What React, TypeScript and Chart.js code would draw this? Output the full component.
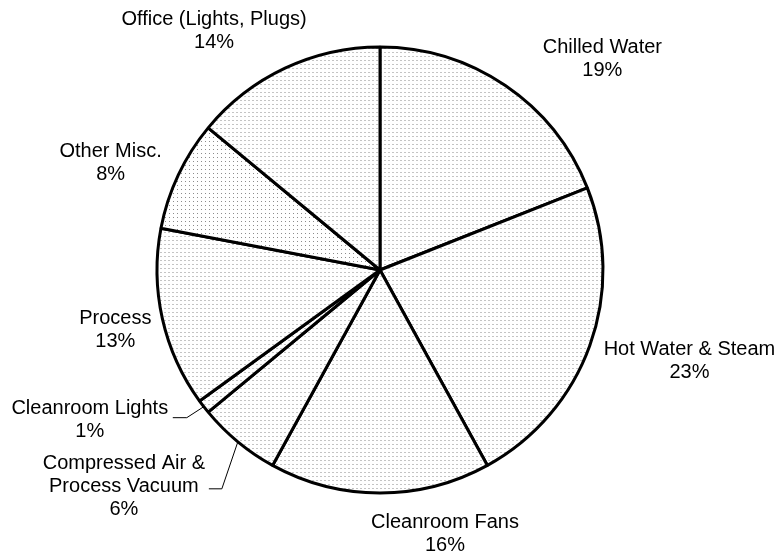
import React, { useEffect, useRef } from "react";
import { Chart, registerables } from "chart.js";

Chart.register(...registerables);

// ---- data ----
const categories = [
  "Chilled Water",
  "Hot Water & Steam",
  "Cleanroom Fans",
  "Compressed Air &\nProcess Vacuum",
  "Cleanroom Lights",
  "Process",
  "Other Misc.",
  "Office (Lights, Plugs)",
];
const shares = [19, 23, 16, 6, 1, 13, 8, 14];

// ---- label styling (offset of label block centre from slice's outer-edge midpoint) ----
const labelOffsets: [number, number][] = [
  [97, -26.5],
  [99.6, 15.6],
  [65, 41],
  [-114, 44.6],
  [-114, 13],
  [-47, 11.5],
  [-67.6, -11.7],
  [-71, -37],
];
// leader lines: [elbow dx, elbow dy, stub dx] relative to edge point, or null
const leaders: ([number, number, number] | null)[] = [
  null, null, null,
  [-16, 47, -13],
  [-17, 11, -14],
  null, null, null,
];
const denseIndex = 6;

function makePattern(dense: boolean): CanvasPattern | string {
  const c = document.createElement("canvas");
  c.width = 4;
  c.height = 4;
  const g = c.getContext("2d");
  if (!g) return "#eee";
  g.fillStyle = "#ffffff";
  g.fillRect(0, 0, 4, 4);
  if (dense) {
    g.fillStyle = "#8c8c8c";
    g.fillRect(1, 1, 1, 1);
  } else {
    g.fillStyle = "#c4c4c4";
    g.fillRect(0, 0, 2, 1);
  }
  const p = g.createPattern(c, "repeat");
  return p || "#eee";
}

const labelPlugin = {
  id: "pieLabels",
  afterDraw(chart: any) {
    const ctx = chart.ctx as CanvasRenderingContext2D;
    const meta = chart.getDatasetMeta(0);
    ctx.save();
    ctx.font = '20px "Liberation Sans", Arial, sans-serif';
    ctx.fillStyle = "#000";
    ctx.textAlign = "center";
    ctx.textBaseline = "middle";
    const lh = 23;
    meta.data.forEach((arc: any, i: number) => {
      const { x, y, startAngle, endAngle, outerRadius } = arc.getProps(
        ["x", "y", "startAngle", "endAngle", "outerRadius"],
        true
      );
      const mid = (startAngle + endAngle) / 2;
      const ex = x + Math.cos(mid) * outerRadius;
      const ey = y + Math.sin(mid) * outerRadius;
      const [dx, dy] = labelOffsets[i];
      const cx = ex + dx;
      const cy = ey + dy;
      const lines = (categories[i] + "\n" + shares[i] + "%").split("\n");
      const top = cy - ((lines.length - 1) * lh) / 2;
      lines.forEach((t, k) => ctx.fillText(t, cx, top + k * lh));
      const ld = leaders[i];
      if (ld) {
        ctx.beginPath();
        ctx.strokeStyle = "#000";
        ctx.lineWidth = 1;
        ctx.moveTo(ex, ey);
        ctx.lineTo(ex + ld[0], ey + ld[1]);
        ctx.lineTo(ex + ld[0] + ld[2], ey + ld[1]);
        ctx.stroke();
      }
    });
    ctx.restore();
  },
};

export default function App() {
  const ref = useRef<HTMLCanvasElement>(null);
  useEffect(() => {
    if (!ref.current) return;
    const light = makePattern(false);
    const dense = makePattern(true);
    const chart = new Chart(ref.current, {
      type: "pie",
      data: {
        labels: categories,
        datasets: [
          {
            data: shares,
            backgroundColor: shares.map((_, i) => (i === denseIndex ? dense : light)) as any,
            borderColor: "#000",
            borderWidth: 3,
          },
        ],
      },
      options: {
        responsive: false,
        animation: false,
        devicePixelRatio: 1,
        layout: { padding: { top: 45.5, bottom: 57.5, left: 155.5, right: 171.5 } },
        plugins: {
          legend: { display: false },
          tooltip: { enabled: false },
        },
      },
      plugins: [labelPlugin],
    });
    return () => chart.destroy();
  }, []);
  return (
    <div style={{ position: "fixed", left: 0, top: 0, width: 776, height: 552, background: "#fff" }}>
      <canvas ref={ref} width={776} height={552} style={{ width: 776, height: 552 }} />
    </div>
  );
}
